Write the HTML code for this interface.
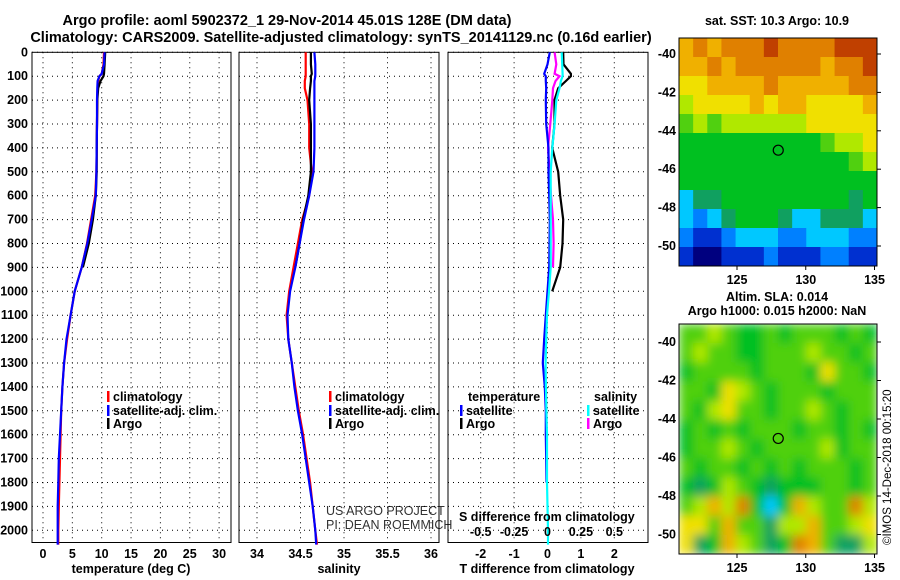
<!DOCTYPE html>
<html><head><meta charset="utf-8"><style>
body{margin:0;background:#fff;}
svg{display:block;font-family:"Liberation Sans",sans-serif;}
.b{font-weight:bold;font-size:12.5px;}
.t{font-weight:bold;font-size:14.5px;}
</style></head><body>
<svg id="c" width="900" height="580" viewBox="0 0 900 580">
<text class="t" x="287" y="25" text-anchor="middle">Argo profile: aoml 5902372_1 29-Nov-2014 45.01S 128E (DM data)</text>
<text class="t" x="341" y="42" text-anchor="middle">Climatology: CARS2009. Satellite-adjusted climatology: synTS_20141129.nc (0.16d earlier)</text>
<text class="b" x="777" y="25" text-anchor="middle" font-size="13">sat. SST: 10.3 Argo: 10.9</text>
<text class="b" x="777" y="301" text-anchor="middle">Altim. SLA: 0.014</text>
<text class="b" x="777" y="315" text-anchor="middle">Argo h1000: 0.015 h2000: NaN</text>
<text x="891" y="545" font-size="11.5" transform="rotate(-90 891 545)">©IMOS 14-Dec-2018 00:15:20</text>
<text x="326" y="515" font-size="12.5" fill="#333">US ARGO PROJECT</text>
<text x="326" y="529" font-size="12.5" fill="#333">PI: DEAN ROEMMICH</text>
</svg>
<script>
const depths=[0,50,90,100,120,150,200,300,400,500,600,700,800,900,1000,1100,1200,1300,1400,1500,1600,1700,1800,1900,2000,2060];
const tempClim=[10.4,10.3,10.0,9.6,9.4,9.3,9.25,9.2,9.15,9.1,8.9,8.2,7.5,6.6,5.4,4.7,4.1,3.6,3.3,3.1,3.0,2.9,2.8,2.7,2.6,2.6];
const tempSat=[10.5,10.4,10.0,9.6,9.3,9.25,9.2,9.2,9.15,9.1,9.0,8.3,7.55,6.6,5.4,4.7,4.0,3.6,3.3,3.1,2.9,2.7,2.6,2.5,2.5,2.5];
const tempArgo=[10.6,10.5,10.4,10.3,9.8,9.4,9.25,9.2,9.15,9.15,9.0,8.5,7.8,6.8,null,null,null,null,null,null,null,null,null,null,null,null];
const salClim=[34.56,34.56,34.56,34.56,34.55,34.55,34.58,34.60,34.60,34.63,34.60,34.52,34.47,34.42,34.37,34.34,34.36,34.40,34.44,34.48,34.53,34.57,34.61,34.64,34.67,34.69];
const salSat=[34.66,34.67,34.67,34.67,34.66,34.66,34.66,34.66,34.66,34.65,34.60,34.54,34.49,34.44,34.38,34.35,34.36,34.40,34.43,34.47,34.52,34.56,34.60,34.64,34.67,34.68];
const salArgo=[34.62,34.62,34.63,34.62,34.62,34.61,34.60,34.62,34.62,34.62,34.59,34.53,34.49,34.44,null,null,null,null,null,null,null,null,null,null,null,null];
const dTsat=[0.07,0.0,-0.1,-0.05,-0.05,-0.04,-0.05,-0.04,0.03,0.03,0.05,0.07,0.06,0.05,0.0,-0.05,-0.1,-0.14,-0.08,-0.05,-0.05,-0.04,-0.03,null,null,null];
const dTargo=[0.47,0.48,0.70,0.70,0.55,0.32,0.21,0.21,0.14,0.32,0.38,0.47,0.45,0.38,0.14,null,null,null,null,null,null,null,null,null,null,null];
const dSsat=[0.106,0.11,0.113,0.113,0.10,0.09,0.066,0.053,0.036,0.024,0.024,0.024,0.024,0.024,0.011,-0.004,-0.01,-0.014,-0.012,-0.008,-0.004,-0.004,-0.004,0.0,0.004,0.004];
const dSargo=[0.053,0.066,0.053,0.09,0.06,0.041,0.036,0.021,0.004,0.016,0.026,0.041,0.046,0.041,null,null,null,null,null,null,null,null,null,null,null,null];
const depthTicks=[0,100,200,300,400,500,600,700,800,900,1000,1100,1200,1300,1400,1500,1600,1700,1800,1900,2000];
const tempTicks=[0,5,10,15,20,25,30];
const salTicks=[34,34.5,35,35.5,36];
const salTickLabels=["34","34.5","35","35.5","36"];
const dTTicks=[-2,-1,0,1,2];
const dSTicks=[-0.5,-0.25,0,0.25,0.5];
const dSTickLabels=["-0.5","-0.25","0","0.25","0.5"];
const sstLats=[-40,-42,-44,-46,-48,-50];
const lonTicks=[125,130,135];
const sstGrid=["9A9AAABAAAABBB","99A9AAAAAA9AAB","889999A99999AA","78888989988889","67677777788888","55555555556778","55555555555567","55555555555555","34455555555545","32345554334443","21123332233322","10011121112211"];
const slaGrid=["66765565666565","67665566676656","56666566658665","66587656665666","65786656676566","56565666566565","56676566667566","65665656566656","54576545556656","6797A5359766A7","88696647796678","84597645A96447"];
const palette=['#00007f','#0030d0','#0080ff','#00c8ff','#10a060','#00c020','#50d010','#b0e800','#f0e000','#f0b000','#e08000','#c04000'];

const svg=document.getElementById('c');
const NS='http://www.w3.org/2000/svg';
function mk(tag,attrs){const e=document.createElementNS(NS,tag);for(const k in attrs)e.setAttribute(k,attrs[k]);svg.appendChild(e);return e;}
const yD=d=>52.3+d*0.239;
const Y0=52.3,Y1=542.5;
const xT=t=>43+t*5.87;
const xS=s=>257+(s-34)*87;
const xDT=t=>547.5+t*33.4;
const xDS=s=>547.5+s*133.6;

function panel(x0,x1,name,xticks,xf,labels,showDepth){
  const g=mk('rect',{x:x0,y:Y0,width:x1-x0,height:Y1-Y0,fill:'none',stroke:'#000','stroke-width':1});
  
  
  depthTicks.forEach(d=>{
    const l=mk('line',{x1:x0,x2:x1,y1:yD(d),y2:yD(d),stroke:'#000','stroke-width':1,'stroke-dasharray':'1,4'});
    
    
    if(showDepth){
      const t=mk('text',{x:28,y:yD(d)+4,'text-anchor':'end',class:'b'});t.textContent=d;
      
      
    }
  });
  xticks.forEach((v,i)=>{
    const l=mk('line',{x1:xf(v),x2:xf(v),y1:Y0,y2:Y1,stroke:'#000','stroke-width':1,'stroke-dasharray':'1,4'});
    
    
    const t=mk('text',{x:xf(v),y:558,'text-anchor':'middle',class:'b'});t.textContent=labels[i];
    
    
  });
}
panel(32,231,'temperature-panel',tempTicks,xT,tempTicks.map(String),true);
panel(239,439,'salinity-panel',salTicks,xS,salTickLabels,false);
panel(448,648,'difference-panel',dTTicks,xDT,dTTicks.map(String),false);

function series(vals,xf,color,name){
  let pts=[];
  vals.forEach((v,i)=>{if(v!==null)pts.push(xf(v).toFixed(1)+','+yD(depths[i]).toFixed(1));});
  const p=mk('polyline',{points:pts.join(' '),fill:'none',stroke:color,'stroke-width':2.2});
  
  
}
series(tempClim,xT,'#f00','temp-climatology-line');
series(tempArgo,xT,'#000','temp-argo-line');
series(tempSat,xT,'#00f','temp-satellite-line');
series(salClim,xS,'#f00','sal-climatology-line');
series(salArgo,xS,'#000','sal-argo-line');
series(salSat,xS,'#00f','sal-satellite-line');
series(dTargo,xDT,'#000','dt-argo-line');
series(dSargo,xDS,'#f0f','ds-argo-line');
series(dTsat,xDT,'#00f','dt-satellite-line');
series(dSsat,xDS,'#0ff','ds-satellite-line');

function legend(x,y,color,label,name){
  const r=mk('rect',{x:x,y:y-10,width:2.5,height:11,fill:color});
  
  
  const t=mk('text',{x:x+6,y:y,class:'b'});t.textContent=label;
  
  
}
[[107,'temp-legend'],[329,'sal-legend']].forEach(([x,n])=>{
  legend(x,401,'#f00','climatology',n+'-climatology');
  legend(x,415,'#00f','satellite-adj. clim.',n+'-satellite');
  legend(x,428,'#000','Argo',n+'-argo');
});
let tt=mk('text',{x:468,y:401,class:'b'});tt.textContent='temperature';


let ts=mk('text',{x:594,y:401,class:'b'});ts.textContent='salinity';


legend(460,415,'#00f','satellite','diff-legend-t-satellite');
legend(460,428,'#000','Argo','diff-legend-t-argo');
legend(587,415,'#0ff','satellite','diff-legend-s-satellite');
legend(587,428,'#f0f','Argo','diff-legend-s-argo');
let st=mk('text',{x:459,y:521,class:'b'});st.textContent='S difference from climatology';


dSTicks.forEach((v,i)=>{
  const t=mk('text',{x:xDS(v),y:536,'text-anchor':'middle',class:'b'});t.textContent=dSTickLabels[i];
  
  
});
[[131,'temperature (deg C)','temperature-axis-title'],[339,'salinity','salinity-axis-title'],[547,'T difference from climatology','t-diff-axis-title']].forEach(([x,s,n])=>{
  const t=mk('text',{x:x,y:573,'text-anchor':'middle',class:'b'});t.textContent=s;
  
  
});

function map(grid,x0,y0,w,h,lat40y,lat50y,name,blur,clipId){
  const rows=grid.length,cols=grid[0].length,cw=w/cols,ch=h/rows;
  const outer=document.createElementNS(NS,'g');svg.appendChild(outer);
  outer.setAttribute('clip-path','url(#'+clipId+')');
  const g=document.createElementNS(NS,'g');outer.appendChild(g);
  
  
  if(blur)g.setAttribute('filter','url(#bl)');
  grid.forEach((row,r)=>{for(let c=0;c<cols;c++){
    const e=document.createElementNS(NS,'rect');
    e.setAttribute('x',x0+c*cw);e.setAttribute('y',y0+r*ch);e.setAttribute('width',cw+0.6);e.setAttribute('height',ch+0.6);
    e.setAttribute('fill',palette[parseInt(row[c],16)]);
    
    
    g.appendChild(e);
  }});
  const latY=l=>lat40y+(-40-l)*(lat50y-lat40y)/10;
  const lonX=l=>737+(l-125)*13.75;
  sstLats.forEach(l=>{
    const t=mk('text',{x:x0-3,y:latY(l)+4,'text-anchor':'end',class:'b','font-weight':'normal'});t.textContent=l;
    
    
    const k=mk('line',{x1:x0+w,x2:x0+w+4,y1:latY(l),y2:latY(l),stroke:'#000'});
    
    
  });
  lonTicks.forEach(l=>{
    const k=mk('line',{x1:lonX(l),x2:lonX(l),y1:y0+h,y2:y0+h+4,stroke:'#000'});
    
    
    const t=mk('text',{x:lonX(l),y:y0+h+18,'text-anchor':'middle',class:'b'});t.textContent=l;
    
    
  });
  const f=mk('rect',{x:x0,y:y0,width:w,height:h,fill:'none',stroke:'#000'});
  
  
  const m=mk('circle',{cx:lonX(128),cy:latY(-45.01),r:5,fill:'none',stroke:'#000','stroke-width':1.2});
  
  
}
const defs=document.createElementNS(NS,'defs');
defs.innerHTML='<filter id="bl" x="-0.1" y="-0.1" width="1.2" height="1.2"><feGaussianBlur stdDeviation="5"/></filter><clipPath id="cp1"><rect x="679" y="38" width="198" height="228"/></clipPath><clipPath id="cp2"><rect x="679" y="324" width="198" height="230"/></clipPath>';
svg.appendChild(defs);
map(sstGrid,679,38,198,228,54,246,'sst-map',false,'cp1');
map(slaGrid,679,324,198,230,342,534.5,'sla-map',true,'cp2');
</script>
</body></html>
